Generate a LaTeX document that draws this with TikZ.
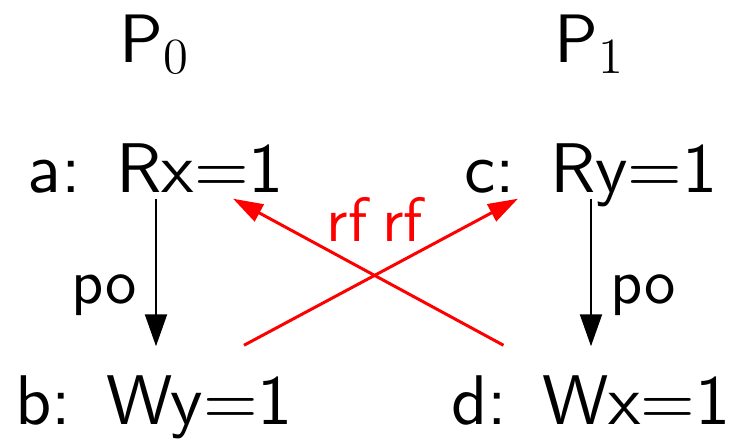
\documentclass[tikz,border=0pt]{standalone}
\usepackage{fontspec}
\setsansfont{lmsans10-regular.otf}
\usetikzlibrary{arrows.meta}

\begin{document}
\begin{tikzpicture}[
      event/.style={font=\fontsize{20}{24}\selectfont\sffamily, anchor=base,
                    inner sep=0.05cm, text height=0.49cm, text depth=0pt},
      proc/.style={font=\fontsize{19.5}{23}\selectfont, anchor=base, inner sep=0pt},
      poedge/.style={-{Triangle[length=0.32cm,width=0.22cm]}, line width=0.6pt,
                     shorten >=0.24cm},
      rfedge/.style={-{Triangle[length=0.30cm,width=0.19cm]}, red, line width=0.85pt},
      elabel/.style={font=\fontsize{17.8}{21}\selectfont\sffamily, inner sep=0pt}]
    \useasboundingbox (0,0) rectangle (7.29,4.40);
    % processes
    \node[proc] (p0) at (1.55,3.77) {$\mathsf{P}_0$};
    \node[proc] (p1) at (5.90,3.77) {$\mathsf{P}_1$};
    % events
    \node[event] (a) at (1.56,2.47) {a:\hspace{0.5em}Rx=1};
    \node[event] (b) at (1.54,0.15) {b:\hspace{0.5em}Wy=1};
    \node[event] (c) at (5.91,2.47) {c:\hspace{0.5em}Ry=1};
    \node[event] (d) at (5.91,0.15) {d:\hspace{0.5em}Wx=1};
    % program order
    \draw[poedge] (a.south) -- (a.south |- b.north)
      node[elabel, pos=0.56, left=0.18cm] {po};
    \draw[poedge] (c.south) -- (c.south |- d.north)
      node[elabel, pos=0.56, right=0.18cm] {po};
    % reads-from
    \draw[rfedge] ([shift={(-0.875,0.25)}]d.north) -- ([xshift=0.77cm]a.south)
      node[elabel, red, pos=0.578, above=0.18cm] {rf};
    \draw[rfedge] ([shift={(0.90,0.25)}]b.north) -- ([xshift=-0.73cm]c.south)
      node[elabel, red, pos=0.578, above=0.18cm] {rf};
  \end{tikzpicture}
\end{document}
